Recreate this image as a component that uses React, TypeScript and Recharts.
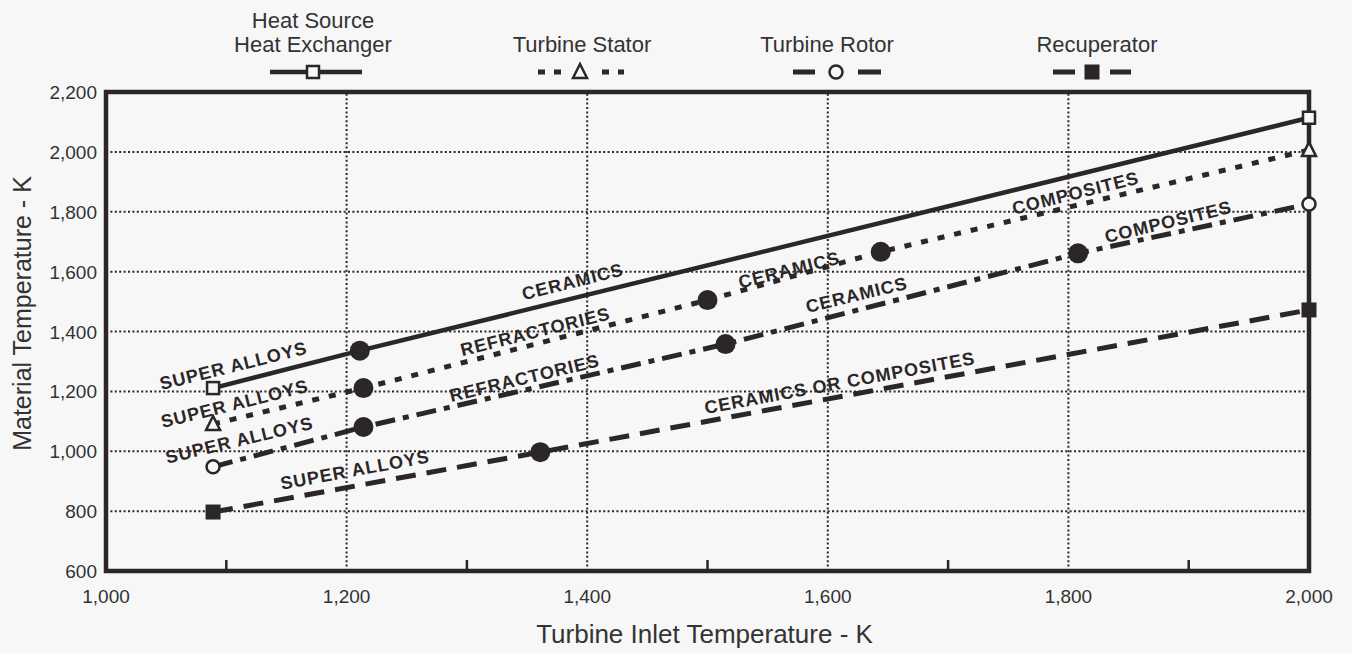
import React from "react";
import {
  LineChart,
  Line,
  XAxis,
  YAxis,
  ReferenceLine,
  ReferenceArea,
  ReferenceDot,
} from "recharts";

const INK = "#2b2628";
const BG = "#f7f7f7";
const FONT = "'Liberation Sans', Arial, Helvetica, sans-serif";

// axes
const xTicks = [1000, 1100, 1200, 1300, 1400, 1500, 1600, 1700, 1800, 1900, 2000];
const yTicks = [600, 800, 1000, 1200, 1400, 1600, 1800, 2000, 2200];
const gridX = [1200, 1400, 1600, 1800];
const gridY = [800, 1000, 1200, 1400, 1600, 1800, 2000];

// series: turbine inlet temp (x) vs material temp (y)
const heatSourceX = [1089, 1211, 2000];
const heatSourceY = [1211, 1336, 2114];
const statorX = [1089, 1214, 1500, 1644, 2000];
const statorY = [1091, 1211, 1505, 1666, 2006];
const rotorX = [1089, 1214, 1515, 1808, 2000];
const rotorY = [948, 1081, 1358, 1661, 1826];
const recupX = [1089, 1361, 2000];
const recupY = [797, 997, 1472];

// material regime notes along the lines
const notes = [
  { text: "SUPER ALLOYS", x: 1106, y: 1285, rot: -14 },
  { text: "CERAMICS", x: 1388, y: 1566, rot: -14 },
  { text: "COMPOSITES", x: 1806, y: 1862, rot: -14 },
  { text: "SUPER ALLOYS", x: 1107, y: 1158, rot: -14 },
  { text: "REFRACTORIES", x: 1357, y: 1399, rot: -14 },
  { text: "CERAMICS", x: 1568, y: 1605, rot: -14 },
  { text: "SUPER ALLOYS", x: 1111, y: 1037, rot: -13.5 },
  { text: "REFRACTORIES", x: 1348, y: 1244, rot: -13.5 },
  { text: "CERAMICS", x: 1624, y: 1522, rot: -13.5 },
  { text: "COMPOSITES", x: 1883, y: 1766, rot: -13.5 },
  { text: "SUPER ALLOYS", x: 1207, y: 937, rot: -10.5 },
  { text: "CERAMICS OR COMPOSITES", x: 1610, y: 1228, rot: -10.5 },
];

const toPoints = (xs: number[], ys: number[]) => xs.map((x, i) => ({ x, y: ys[i] }));

type Marker = "openSquare" | "openTriangle" | "openCircle" | "filledSquare";

function EndMark({ kind, cx, cy }: { kind: Marker; cx: number; cy: number }) {
  if (kind === "openSquare")
    return <rect x={cx - 6} y={cy - 6} width={12} height={12} fill={BG} stroke={INK} strokeWidth={2.5} />;
  if (kind === "openTriangle")
    return (
      <polygon
        points={`${cx},${cy - 8} ${cx - 7},${cy + 6} ${cx + 7},${cy + 6}`}
        fill={BG}
        stroke={INK}
        strokeWidth={2.5}
      />
    );
  if (kind === "openCircle")
    return <circle cx={cx} cy={cy} r={6.5} fill={BG} stroke={INK} strokeWidth={2.5} />;
  return <rect x={cx - 7.5} y={cy - 7.5} width={15} height={15} fill={INK} />;
}

const makeDot = (kind: Marker, count: number) => (p: any) => {
  const { cx, cy, index } = p;
  const key = `dot-${kind}-${index}`;
  if (index === 0 || index === count - 1)
    return (
      <g key={key}>
        <EndMark kind={kind} cx={cx} cy={cy} />
      </g>
    );
  return <circle key={key} cx={cx} cy={cy} r={10} fill={INK} />;
};

function NoteLabel(props: any) {
  const { viewBox, text, rot } = props;
  const cx = viewBox.x + viewBox.width / 2;
  const cy = viewBox.y + viewBox.height / 2;
  return (
    <text
      x={cx}
      y={cy}
      transform={`rotate(${rot} ${cx} ${cy})`}
      textAnchor="middle"
      dominantBaseline="central"
      fontFamily={FONT}
      fontWeight="bold"
      fontSize={18}
      letterSpacing={1}
      fill={INK}
    >
      {text}
    </text>
  );
}

function XTick(props: any) {
  const { x, y, payload } = props;
  const v = payload.value as number;
  if (v % 200 !== 0) {
    return <line x1={x} y1={y} x2={x} y2={y - 11} stroke={INK} strokeWidth={2.5} />;
  }
  return (
    <text x={x} y={y + 32} textAnchor="middle" fontFamily={FONT} fontSize={19} fill="#333">
      {v.toLocaleString("en-US")}
    </text>
  );
}

function YTick(props: any) {
  const { x, y, payload } = props;
  return (
    <text x={x} y={y + 7} textAnchor="end" fontFamily={FONT} fontSize={19} fill="#333">
      {(payload.value as number).toLocaleString("en-US")}
    </text>
  );
}

function Legend() {
  const y = 72;
  const text = { fontFamily: FONT, fontSize: 22, fill: "#333", textAnchor: "middle" as const };
  return (
    <svg width={1352} height={92} style={{ position: "absolute", left: 0, top: 0 }}>
      <text x={313} y={28} {...text}>Heat  Source</text>
      <text x={313} y={52} {...text}>Heat Exchanger</text>
      <line x1={270} y1={y} x2={362} y2={y} stroke={INK} strokeWidth={4.5} />
      <EndMark kind="openSquare" cx={313} cy={y} />

      <text x={582} y={52} {...text}>Turbine Stator</text>
      <line x1={538} y1={y} x2={624} y2={y} stroke={INK} strokeWidth={5} strokeDasharray="7 9" />
      <rect x={566} y={y - 10} width={28} height={20} fill={BG} />
      <EndMark kind="openTriangle" cx={580} cy={y} />

      <text x={827} y={52} {...text}>Turbine Rotor</text>
      <line x1={793} y1={y} x2={815} y2={y} stroke={INK} strokeWidth={5} />
      <line x1={858} y1={y} x2={881} y2={y} stroke={INK} strokeWidth={5} />
      <EndMark kind="openCircle" cx={836} cy={y} />

      <text x={1097} y={52} {...text}>Recuperator</text>
      <line x1={1053} y1={y} x2={1075} y2={y} stroke={INK} strokeWidth={5} />
      <line x1={1110} y1={y} x2={1131} y2={y} stroke={INK} strokeWidth={5} />
      <EndMark kind="filledSquare" cx={1092} cy={y} />
    </svg>
  );
}

function YTitle(props: any) {
  const vb = props.viewBox;
  const cx = 31;
  const cy = vb.y + vb.height / 2 - 18;
  return (
    <text
      x={cx}
      y={cy}
      transform={`rotate(-90 ${cx} ${cy})`}
      textAnchor="middle"
      fontFamily={FONT}
      fontSize={25}
      fill="#333"
    >
      Material Temperature - K
    </text>
  );
}

function XTitle(props: any) {
  const vb = props.viewBox;
  return (
    <text
      x={vb.x + vb.width / 2 - 3}
      y={643}
      textAnchor="middle"
      fontFamily={FONT}
      fontSize={26}
      fill="#333"
    >
      Turbine Inlet Temperature - K
    </text>
  );
}

export default function App() {
  const heatSource = toPoints(heatSourceX, heatSourceY);
  const stator = toPoints(statorX, statorY);
  const rotor = toPoints(rotorX, rotorY);
  const recup = toPoints(recupX, recupY);

  return (
    <div style={{ position: "absolute", left: 0, top: 0, width: 1352, height: 653, background: BG }}>
      <LineChart width={1352} height={653} margin={{ top: 92, right: 43, bottom: 0, left: 0 }}>
        <XAxis
          type="number"
          dataKey="x"
          domain={[1000, 2000]}
          ticks={xTicks}
          interval={0}
          height={82}
          axisLine={false}
          tickLine={false}
          tickSize={0}
          tickMargin={0}
          tick={<XTick />}
          label={<XTitle />}
        />
        <YAxis
          type="number"
          domain={[600, 2200]}
          ticks={yTicks}
          interval={0}
          width={106}
          axisLine={false}
          tickLine={false}
          tickSize={0}
          tickMargin={9}
          tick={<YTick />}
          label={<YTitle />}
        />
        {gridY.map((v) => (
          <ReferenceLine key={`gy-${v}`} y={v} stroke={INK} strokeWidth={2} strokeDasharray="2 2.4" />
        ))}
        {gridX.map((v) => (
          <ReferenceLine key={`gx-${v}`} x={v} stroke={INK} strokeWidth={2} strokeDasharray="2 2.4" />
        ))}
        <ReferenceArea
          x1={1000}
          x2={2000}
          y1={600}
          y2={2200}
          fill="none"
          stroke={INK}
          strokeWidth={4.5}
          ifOverflow="visible"
        />

        <Line
          data={heatSource}
          dataKey="y"
          name="Heat Source Heat Exchanger"
          stroke={INK}
          strokeWidth={4.5}
          dot={makeDot("openSquare", heatSource.length)}
          isAnimationActive={false}
        />
        <Line
          data={stator}
          dataKey="y"
          name="Turbine Stator"
          stroke={INK}
          strokeWidth={5}
          strokeDasharray="7 10"
          dot={makeDot("openTriangle", stator.length)}
          isAnimationActive={false}
        />
        <Line
          data={rotor}
          dataKey="y"
          name="Turbine Rotor"
          stroke={INK}
          strokeWidth={5}
          strokeDasharray="20 8 6 8"
          dot={makeDot("openCircle", rotor.length)}
          isAnimationActive={false}
        />
        <Line
          data={recup}
          dataKey="y"
          name="Recuperator"
          stroke={INK}
          strokeWidth={5}
          strokeDasharray="20 11"
          dot={makeDot("filledSquare", recup.length)}
          isAnimationActive={false}
        />

        {notes.map((n, i) => (
          <ReferenceDot
            key={`note-${i}`}
            x={n.x}
            y={n.y}
            r={0}
            fill="none"
            stroke="none"
            label={<NoteLabel text={n.text} rot={n.rot} />}
          />
        ))}
      </LineChart>
      <Legend />
    </div>
  );
}
